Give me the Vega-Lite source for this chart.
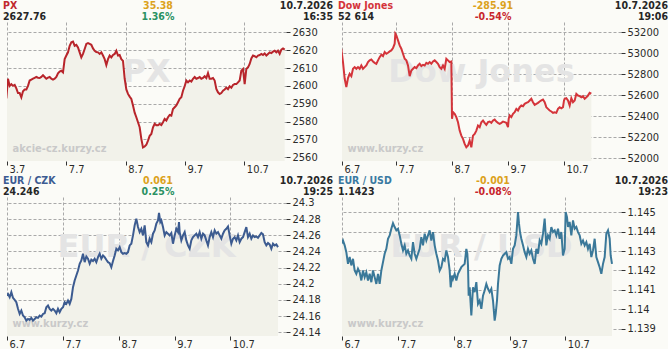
{
"$schema":"https://vega.github.io/schema/vega-lite/v6.json",
"background":"#fbfbf7",
"padding":{"left":3,"top":1,"right":0,"bottom":0},
"columns":2,
"spacing":{"row":36,"column":56},
"bounds":"flush",
"resolve":{"scale":{"color":"independent"}},
"config":{"view":{"stroke":null},
 "axis":{"domain":false,"grid":true,"gridColor":"#a9a9a9","gridDash":[3,2],"tickColor":"#333","tickSize":4,"labelFont":"DejaVu Sans Condensed","labelFontSize":11,"labelColor":"#2b2b2b","labelOverlap":false,"labelFlush":false,"title":null},
 "axisBottom":{"labelAlign":"left","labelOffset":2,"labelPadding":7,"labelBaseline":"alphabetic"},
 "axisRight":{"labelPadding":2}},
"datasets":{
"hdr":[
{"s":"PX","slot":"left","row":"top","role":"name","text":"PX"},
{"s":"PX","slot":"left","row":"bottom","role":"last","text":"2627.76"},
{"s":"PX","slot":"mid","row":"top","role":"chg","text":"35.38"},
{"s":"PX","slot":"mid","row":"bottom","role":"pct","text":"1.36%"},
{"s":"PX","slot":"right","row":"top","role":"date","text":"10.7.2026"},
{"s":"PX","slot":"right","row":"bottom","role":"time","text":"16:35"},
{"s":"DJ","slot":"left","row":"top","role":"name","text":"Dow Jones"},
{"s":"DJ","slot":"left","row":"bottom","role":"last","text":"52 614"},
{"s":"DJ","slot":"mid","row":"top","role":"chg","text":"-285.91"},
{"s":"DJ","slot":"mid","row":"bottom","role":"pct","text":"-0.54%"},
{"s":"DJ","slot":"right","row":"top","role":"date","text":"10.7.2026"},
{"s":"DJ","slot":"right","row":"bottom","role":"time","text":"19:06"},
{"s":"CZK","slot":"left","row":"top","role":"name","text":"EUR / CZK"},
{"s":"CZK","slot":"left","row":"bottom","role":"last","text":"24.246"},
{"s":"CZK","slot":"mid","row":"top","role":"chg","text":"0.061"},
{"s":"CZK","slot":"mid","row":"bottom","role":"pct","text":"0.25%"},
{"s":"CZK","slot":"right","row":"top","role":"date","text":"10.7.2026"},
{"s":"CZK","slot":"right","row":"bottom","role":"time","text":"19:25"},
{"s":"USD","slot":"left","row":"top","role":"name","text":"EUR / USD"},
{"s":"USD","slot":"left","row":"bottom","role":"last","text":"1.1423"},
{"s":"USD","slot":"mid","row":"top","role":"chg","text":"-0.001"},
{"s":"USD","slot":"mid","row":"bottom","role":"pct","text":"-0.08%"},
{"s":"USD","slot":"right","row":"top","role":"date","text":"10.7.2026"},
{"s":"USD","slot":"right","row":"bottom","role":"time","text":"19:23"}
],
"px":[
{"t":0,"v":2593},{"t":1,"v":2604},{"t":2,"v":2600},{"t":3,"v":2601},{"t":4,"v":2600},{"t":5,"v":2600.5},{"t":6,"v":2598.6},{"t":7,"v":2596},{"t":8,"v":2596},{"t":9,"v":2593.6},
{"t":10,"v":2597},{"t":11,"v":2598},{"t":12,"v":2598},{"t":13,"v":2600},{"t":14,"v":2603},{"t":15,"v":2603.5},{"t":16,"v":2604},{"t":17,"v":2604.5},{"t":18,"v":2605},{"t":19,"v":2604.6},
{"t":20,"v":2604.4},{"t":21,"v":2605},{"t":22,"v":2606},{"t":23,"v":2605},{"t":24,"v":2604},{"t":25,"v":2604.6},{"t":26,"v":2605},{"t":27,"v":2604},{"t":28,"v":2603.5},{"t":29,"v":2604},
{"t":30,"v":2605},{"t":31,"v":2607},{"t":32,"v":2608},{"t":33,"v":2608.5},{"t":34,"v":2607.6},{"t":35,"v":2615},{"t":36,"v":2617},{"t":37,"v":2618.8},{"t":38,"v":2622.5},{"t":39,"v":2624.4},
{"t":40,"v":2624.8},{"t":41,"v":2622.5},{"t":42,"v":2623},{"t":43,"v":2621.6},{"t":44,"v":2618.8},{"t":45,"v":2616},{"t":46,"v":2617.9},{"t":47,"v":2620.7},{"t":48,"v":2623.5},{"t":49,"v":2624},
{"t":50,"v":2623.5},{"t":51,"v":2623},{"t":52,"v":2621},{"t":53,"v":2619.7},{"t":54,"v":2619},{"t":55,"v":2618.8},{"t":56,"v":2617.9},{"t":57,"v":2618.8},{"t":58,"v":2617},{"t":59,"v":2615},
{"t":60,"v":2611.7},{"t":61,"v":2615},{"t":62,"v":2617},{"t":63,"v":2616},{"t":64,"v":2617.3},{"t":65,"v":2617.9},{"t":66,"v":2619.7},{"t":67,"v":2617},{"t":68,"v":2617.3},{"t":69,"v":2615},
{"t":70,"v":2614},{"t":71,"v":2604},{"t":72,"v":2598},{"t":73,"v":2595.5},{"t":74,"v":2594},{"t":75,"v":2592.7},{"t":76,"v":2589},{"t":77,"v":2585},{"t":78,"v":2582.4},{"t":79,"v":2579.6},
{"t":80,"v":2576.8},{"t":81,"v":2570.3},{"t":82,"v":2565.5},{"t":83,"v":2566},{"t":84,"v":2567},{"t":85,"v":2569.3},{"t":86,"v":2572},{"t":87,"v":2573},{"t":88,"v":2576.8},{"t":89,"v":2578.7},
{"t":90,"v":2578},{"t":91,"v":2578},{"t":92,"v":2578.7},{"t":93,"v":2578},{"t":94,"v":2579.6},{"t":95,"v":2581.5},{"t":96,"v":2580.6},{"t":97,"v":2582.4},{"t":98,"v":2583.7},{"t":99,"v":2583.3},
{"t":100,"v":2587},{"t":101,"v":2588},{"t":102,"v":2589},{"t":103,"v":2590.8},{"t":104,"v":2592.7},{"t":105,"v":2593.6},{"t":106,"v":2597.3},{"t":107,"v":2599.8},{"t":108,"v":2603},{"t":109,"v":2602},
{"t":110,"v":2603},{"t":111,"v":2602.4},{"t":112,"v":2604},{"t":113,"v":2605},{"t":114,"v":2604},{"t":115,"v":2604.4},{"t":116,"v":2605},{"t":117,"v":2604},{"t":118,"v":2604.4},{"t":119,"v":2605.4},
{"t":120,"v":2604.4},{"t":121,"v":2607.2},{"t":122,"v":2604},{"t":123,"v":2604},{"t":124,"v":2604.4},{"t":125,"v":2603},{"t":126,"v":2598.3},{"t":127,"v":2596.4},{"t":128,"v":2595.5},{"t":129,"v":2596},
{"t":130,"v":2597.3},{"t":131,"v":2598},{"t":132,"v":2599},{"t":133,"v":2598.2},{"t":134,"v":2599.8},{"t":135,"v":2599},{"t":136,"v":2600.5},{"t":137,"v":2601},{"t":138,"v":2601},{"t":139,"v":2602},
{"t":140,"v":2603},{"t":141,"v":2608.5},{"t":142,"v":2609.5},{"t":143,"v":2601},{"t":144,"v":2609.5},{"t":145,"v":2610.4},{"t":146,"v":2612.3},{"t":147,"v":2615.4},{"t":148,"v":2617},{"t":149,"v":2616.6},
{"t":150,"v":2616},{"t":151,"v":2617},{"t":152,"v":2617.3},{"t":153,"v":2617.9},{"t":154,"v":2617.3},{"t":155,"v":2618.2},{"t":156,"v":2617},{"t":157,"v":2617.9},{"t":158,"v":2618.8},{"t":159,"v":2618.4},
{"t":160,"v":2619.2},{"t":161,"v":2619.7},{"t":162,"v":2618.8},{"t":163,"v":2619.7},{"t":164,"v":2617.9},{"t":165,"v":2620.3},{"t":166,"v":2621},{"t":167,"v":2620.3}
],
"dj":[
{"t":0,"v":53044},{"t":1,"v":52917},{"t":2,"v":52760},{"t":3,"v":52678},{"t":4,"v":52765},{"t":5,"v":52805},{"t":6,"v":52783},{"t":7,"v":52853},{"t":8,"v":52869},{"t":9,"v":52853},
{"t":10,"v":52869},{"t":11,"v":52853},{"t":12,"v":52885},{"t":13,"v":52853},{"t":14,"v":52869},{"t":15,"v":52885},{"t":16,"v":52917},{"t":17,"v":52933},{"t":18,"v":52942},{"t":19,"v":52923},
{"t":20,"v":52910},{"t":21,"v":52901},{"t":22,"v":52933},{"t":23,"v":52964},{"t":24,"v":52987},{"t":25,"v":52974},{"t":26,"v":53012},{"t":27,"v":52996},{"t":28,"v":53006},{"t":29,"v":53019},
{"t":30,"v":53028},{"t":31,"v":53050},{"t":32,"v":53092},{"t":32.4,"v":53187},{"t":33,"v":53171},{"t":34,"v":53124},{"t":35,"v":53076},{"t":36,"v":53044},{"t":37,"v":52996},{"t":38,"v":52949},{"t":39,"v":52933},
{"t":40,"v":52885},{"t":41,"v":52783},{"t":42,"v":52837},{"t":43,"v":52853},{"t":44,"v":52869},{"t":45,"v":52860},{"t":46,"v":52885},{"t":47,"v":52901},{"t":48,"v":52879},{"t":49,"v":52891},
{"t":50,"v":52885},{"t":51,"v":52910},{"t":52,"v":52901},{"t":53,"v":52917},{"t":54,"v":52901},{"t":55,"v":52923},{"t":56,"v":52933},{"t":57,"v":52917},{"t":58,"v":52901},{"t":59,"v":52869},
{"t":60,"v":52853},{"t":61,"v":52885},{"t":62,"v":52853},{"t":63,"v":52949},{"t":64,"v":52933},{"t":65,"v":52917},{"t":66,"v":52923},{"t":66.4,"v":52376},{"t":67,"v":52439},{"t":68,"v":52423},{"t":69,"v":52392},
{"t":70,"v":52344},{"t":71,"v":52264},{"t":72,"v":52216},{"t":73,"v":52185},{"t":74,"v":52137},{"t":75,"v":52105},{"t":76,"v":52121},{"t":77,"v":52169},{"t":78,"v":52105},{"t":79,"v":52216},
{"t":80,"v":52232},{"t":81,"v":52264},{"t":82,"v":52312},{"t":83,"v":52296},{"t":84,"v":52344},{"t":85,"v":52360},{"t":86,"v":52338},{"t":87,"v":52319},{"t":88,"v":52344},{"t":89,"v":52350},
{"t":90,"v":52338},{"t":91,"v":52360},{"t":92,"v":52369},{"t":93,"v":52350},{"t":94,"v":52338},{"t":95,"v":52328},{"t":96,"v":52338},{"t":97,"v":52350},{"t":98,"v":52344},{"t":99,"v":52338},
{"t":100,"v":52296},{"t":100.4,"v":52376},{"t":101,"v":52408},{"t":102,"v":52392},{"t":103,"v":52423},{"t":104,"v":52439},{"t":105,"v":52471},{"t":106,"v":52455},{"t":107,"v":52487},{"t":108,"v":52503},{"t":109,"v":52496},
{"t":110,"v":52519},{"t":111,"v":52528},{"t":112,"v":52535},{"t":113,"v":52551},{"t":114,"v":52567},{"t":115,"v":52535},{"t":116,"v":52509},{"t":117,"v":52519},{"t":118,"v":52528},{"t":119,"v":52541},
{"t":120,"v":52551},{"t":121,"v":52560},{"t":122,"v":52535},{"t":123,"v":52487},{"t":124,"v":52471},{"t":125,"v":52455},{"t":126,"v":52446},{"t":127,"v":52433},{"t":128,"v":52439},{"t":129,"v":52433},
{"t":130,"v":52471},{"t":131,"v":52487},{"t":132,"v":52477},{"t":133,"v":52487},{"t":133.6,"v":52551},{"t":134,"v":52567},{"t":135,"v":52573},{"t":136,"v":52551},{"t":137,"v":52503},{"t":138,"v":52573},{"t":139,"v":52535},
{"t":140,"v":52551},{"t":141,"v":52614},{"t":142,"v":52598},{"t":143,"v":52592},{"t":144,"v":52582},{"t":145,"v":52592},{"t":146,"v":52567},{"t":147,"v":52582},{"t":148,"v":52598},{"t":149,"v":52624},
{"t":150,"v":52617}
],
"czk":[
{"t":0,"v":24.1855},{"t":1,"v":24.1875},{"t":2,"v":24.1834},{"t":3,"v":24.1896},{"t":4,"v":24.1826},{"t":5,"v":24.1801},{"t":6,"v":24.1772},{"t":7,"v":24.169},{"t":8,"v":24.1627},{"t":9,"v":24.1669},
{"t":10,"v":24.1607},{"t":11,"v":24.1586},{"t":12,"v":24.1545},{"t":13,"v":24.1565},{"t":14,"v":24.1553},{"t":15,"v":24.1578},{"t":16,"v":24.1545},{"t":17,"v":24.1565},{"t":18,"v":24.1586},{"t":19,"v":24.1578},
{"t":20,"v":24.1607},{"t":21,"v":24.1594},{"t":22,"v":24.1627},{"t":23,"v":24.1636},{"t":24,"v":24.171},{"t":25,"v":24.1731},{"t":26,"v":24.169},{"t":27,"v":24.1669},{"t":28,"v":24.169},{"t":29,"v":24.1669},
{"t":30,"v":24.1636},{"t":31,"v":24.169},{"t":32,"v":24.1648},{"t":33,"v":24.169},{"t":34,"v":24.171},{"t":35,"v":24.1772},{"t":36,"v":24.1752},{"t":37,"v":24.1793},{"t":38,"v":24.1752},{"t":39,"v":24.1813},
{"t":40,"v":24.1958},{"t":41,"v":24.2041},{"t":42,"v":24.2103},{"t":43,"v":24.2165},{"t":44,"v":24.2248},{"t":45,"v":24.2289},{"t":46,"v":24.2372},{"t":47,"v":24.2268},{"t":48,"v":24.2339},{"t":49,"v":24.231},
{"t":50,"v":24.2248},{"t":51,"v":24.2298},{"t":52,"v":24.2281},{"t":53,"v":24.231},{"t":54,"v":24.2268},{"t":55,"v":24.233},{"t":56,"v":24.2372},{"t":57,"v":24.231},{"t":58,"v":24.2351},{"t":59,"v":24.233},
{"t":60,"v":24.2298},{"t":61,"v":24.2268},{"t":62,"v":24.2256},{"t":63,"v":24.2206},{"t":64,"v":24.2281},{"t":65,"v":24.2351},{"t":66,"v":24.2434},{"t":67,"v":24.2413},{"t":68,"v":24.2454},{"t":69,"v":24.2392},
{"t":70,"v":24.2372},{"t":71,"v":24.238},{"t":72,"v":24.2372},{"t":73,"v":24.2392},{"t":74,"v":24.2475},{"t":75,"v":24.2496},{"t":76,"v":24.2599},{"t":77,"v":24.2723},{"t":78,"v":24.2806},{"t":79,"v":24.2702},
{"t":80,"v":24.264},{"t":81,"v":24.2681},{"t":82,"v":24.2599},{"t":83,"v":24.2723},{"t":84,"v":24.2516},{"t":85,"v":24.2475},{"t":86,"v":24.2558},{"t":87,"v":24.2516},{"t":88,"v":24.262},{"t":89,"v":24.2661},
{"t":90,"v":24.2744},{"t":91,"v":24.2785},{"t":91.6,"v":24.2876},{"t":92.4,"v":24.2764},{"t":93,"v":24.2785},{"t":94,"v":24.2702},{"t":95,"v":24.2599},{"t":96,"v":24.264},{"t":97,"v":24.262},{"t":98,"v":24.2599},{"t":99,"v":24.2628},
{"t":100,"v":24.2496},{"t":101,"v":24.2599},{"t":102,"v":24.2681},{"t":103,"v":24.264},{"t":103.6,"v":24.2764},{"t":104,"v":24.264},{"t":105,"v":24.2537},{"t":106,"v":24.2599},{"t":107,"v":24.264},{"t":108,"v":24.2537},{"t":109,"v":24.2475},
{"t":110,"v":24.2434},{"t":111,"v":24.2537},{"t":112,"v":24.2578},{"t":113,"v":24.2599},{"t":114,"v":24.262},{"t":115,"v":24.2578},{"t":116,"v":24.264},{"t":117,"v":24.2558},{"t":118,"v":24.262},{"t":119,"v":24.2599},
{"t":120,"v":24.2537},{"t":121,"v":24.2475},{"t":122,"v":24.2578},{"t":123,"v":24.264},{"t":124,"v":24.2578},{"t":125,"v":24.2661},{"t":126,"v":24.262},{"t":127,"v":24.264},{"t":128,"v":24.2599},{"t":129,"v":24.2558},
{"t":130,"v":24.262},{"t":131,"v":24.2661},{"t":132,"v":24.2681},{"t":133,"v":24.271},{"t":134,"v":24.2599},{"t":135,"v":24.2496},{"t":136,"v":24.2558},{"t":137,"v":24.2578},{"t":138,"v":24.2537},{"t":139,"v":24.2599},
{"t":140,"v":24.2516},{"t":141,"v":24.2558},{"t":142,"v":24.2578},{"t":143,"v":24.264},{"t":144,"v":24.2702},{"t":145,"v":24.2578},{"t":146,"v":24.262},{"t":147,"v":24.2558},{"t":148,"v":24.2599},{"t":149,"v":24.2578},
{"t":150,"v":24.2587},{"t":151,"v":24.257},{"t":152,"v":24.2599},{"t":153,"v":24.2628},{"t":154,"v":24.2611},{"t":155,"v":24.2516},{"t":156,"v":24.2475},{"t":157,"v":24.2504},{"t":158,"v":24.2487},{"t":159,"v":24.2434},
{"t":160,"v":24.2496},{"t":161,"v":24.2475},{"t":162,"v":24.2487},{"t":163,"v":24.2454}
],
"usd":[
{"t":0,"v":1.14337},{"t":1,"v":1.14354},{"t":2,"v":1.14329},{"t":3,"v":1.14294},{"t":4,"v":1.14234},{"t":5,"v":1.14269},{"t":6,"v":1.14226},{"t":7,"v":1.1426},{"t":8,"v":1.142},{"t":9,"v":1.14183},
{"t":10,"v":1.14209},{"t":11,"v":1.14191},{"t":12,"v":1.14149},{"t":13,"v":1.142},{"t":14,"v":1.14166},{"t":15,"v":1.14191},{"t":16,"v":1.14149},{"t":17,"v":1.14183},{"t":18,"v":1.1414},{"t":19,"v":1.142},
{"t":20,"v":1.14166},{"t":21,"v":1.14131},{"t":22,"v":1.14183},{"t":23,"v":1.14131},{"t":24,"v":1.142},{"t":25,"v":1.14243},{"t":26,"v":1.14286},{"t":27,"v":1.14311},{"t":28,"v":1.14363},{"t":29,"v":1.1438},
{"t":30,"v":1.14414},{"t":31,"v":1.14443},{"t":32,"v":1.14423},{"t":33,"v":1.14406},{"t":34,"v":1.14414},{"t":35,"v":1.1438},{"t":36,"v":1.14337},{"t":37,"v":1.14303},{"t":38,"v":1.14329},{"t":39,"v":1.14286},
{"t":40,"v":1.14303},{"t":41,"v":1.14277},{"t":42,"v":1.1426},{"t":43,"v":1.14346},{"t":44,"v":1.14286},{"t":45,"v":1.1426},{"t":46,"v":1.14286},{"t":47,"v":1.14311},{"t":48,"v":1.14371},{"t":49,"v":1.14329},
{"t":50,"v":1.14389},{"t":51,"v":1.14354},{"t":52,"v":1.1438},{"t":53,"v":1.14406},{"t":54,"v":1.14354},{"t":55,"v":1.14397},{"t":56,"v":1.14329},{"t":57,"v":1.14286},{"t":58,"v":1.14251},{"t":59,"v":1.142},
{"t":60,"v":1.14217},{"t":61,"v":1.1426},{"t":62,"v":1.14251},{"t":63,"v":1.14303},{"t":64,"v":1.14269},{"t":65,"v":1.142},{"t":65.6,"v":1.14114},{"t":66.4,"v":1.14174},{"t":67,"v":1.14157},{"t":68,"v":1.14183},{"t":69,"v":1.14149},
{"t":70,"v":1.14183},{"t":71,"v":1.142},{"t":72,"v":1.14217},{"t":73,"v":1.14226},{"t":74,"v":1.14234},{"t":75,"v":1.14311},{"t":75.6,"v":1.14286},{"t":76,"v":1.14226},{"t":76.4,"v":1.14071},{"t":77,"v":1.14114},{"t":78,"v":1.13969},{"t":79,"v":1.14114},
{"t":80,"v":1.14089},{"t":81,"v":1.1414},{"t":82,"v":1.14029},{"t":83,"v":1.14046},{"t":84,"v":1.14003},{"t":85,"v":1.14071},{"t":86,"v":1.14097},{"t":87,"v":1.14131},{"t":88,"v":1.14106},{"t":89,"v":1.14089},
{"t":90,"v":1.14106},{"t":91,"v":1.14046},{"t":92,"v":1.13943},{"t":92.6,"v":1.13977},{"t":93.4,"v":1.14046},{"t":94,"v":1.14131},{"t":95,"v":1.14226},{"t":96,"v":1.1426},{"t":97,"v":1.14277},{"t":98,"v":1.14286},{"t":99,"v":1.14294},
{"t":100,"v":1.1426},{"t":101,"v":1.14269},{"t":102,"v":1.14234},{"t":103,"v":1.14311},{"t":104,"v":1.14329},{"t":105,"v":1.1438},{"t":106,"v":1.145},{"t":106.6,"v":1.1444},{"t":107.2,"v":1.14397},{"t":108,"v":1.14363},{"t":109,"v":1.14329},
{"t":110,"v":1.14294},{"t":111,"v":1.14269},{"t":112,"v":1.14311},{"t":113,"v":1.14286},{"t":114,"v":1.14303},{"t":115,"v":1.1426},{"t":116,"v":1.14234},{"t":117,"v":1.14311},{"t":118,"v":1.14286},{"t":119,"v":1.14354},
{"t":120,"v":1.14337},{"t":121,"v":1.14389},{"t":122,"v":1.14466},{"t":123,"v":1.14329},{"t":124,"v":1.1438},{"t":125,"v":1.14363},{"t":126,"v":1.14423},{"t":127,"v":1.14397},{"t":128,"v":1.14406},{"t":129,"v":1.1438},
{"t":130,"v":1.14414},{"t":131,"v":1.14363},{"t":132,"v":1.14397},{"t":133,"v":1.14277},{"t":134,"v":1.14311},{"t":134.6,"v":1.145},{"t":135.4,"v":1.14474},{"t":136,"v":1.14423},{"t":137,"v":1.14449},{"t":138,"v":1.1438},{"t":139,"v":1.14457},
{"t":140,"v":1.14414},{"t":141,"v":1.14423},{"t":142,"v":1.14397},{"t":143,"v":1.1438},{"t":144,"v":1.14337},{"t":145,"v":1.14354},{"t":146,"v":1.14329},{"t":147,"v":1.14346},{"t":148,"v":1.14311},{"t":149,"v":1.14337},
{"t":150,"v":1.14269},{"t":151,"v":1.14303},{"t":152,"v":1.14363},{"t":153,"v":1.14269},{"t":154,"v":1.14243},{"t":155,"v":1.14217},{"t":156,"v":1.14183},{"t":157,"v":1.14234},{"t":158,"v":1.14269},{"t":159,"v":1.14389},
{"t":160,"v":1.14406},{"t":161,"v":1.14363},{"t":161.6,"v":1.14277},{"t":162.4,"v":1.14234}
]
},
"concat":[
{"width":279,"height":139,"resolve":{"scale":{"x":"independent","y":"independent"}},
 "layer":[
  {"data":{"name":"px"},"mark":{"type":"area","color":"#f2f2ea","clip":true},
   "encoding":{"x":{"field":"t","type":"quantitative","scale":{"domain":[0.4,167.8],"nice":false,"zero":false},"axis":{"orient":"bottom","values":[0.4,36,71.6,107.2,142.8],"labelExpr":"datum.value<1?'3.7':datum.value<40?'7.7':datum.value<80?'8.7':datum.value<120?'9.7':'10.7'"}},
    "y":{"field":"v","type":"quantitative","scale":{"domain":[2557.9,2635.8],"nice":false,"zero":false},"axis":{"orient":"right","values":[2560,2570,2580,2590,2600,2610,2620,2630],"format":"d"}}}},
  {"data":{"name":"hdr"},"transform":[{"filter":"datum.s=='PX' && datum.role=='name'"}],
   "mark":{"type":"text","align":"center","baseline":"alphabetic","font":"DejaVu Sans","fontWeight":"bold","fontSize":32,"color":"#e4e4e4"},
   "encoding":{"x":{"field":"role","type":"nominal","scale":{"type":"point","align":0.5},"axis":null},"y":{"field":"role","type":"nominal","scale":{"type":"point","align":0.432},"axis":null},"text":{"field":"text"}}},
  {"data":{"name":"hdr"},"transform":[{"filter":"datum.s=='PX' && datum.role=='name'"}],
   "mark":{"type":"text","text":"akcie-cz.kurzy.cz","align":"left","baseline":"alphabetic","font":"DejaVu Sans Condensed","fontWeight":"bold","fontSize":11,"color":"#c9c9c9"},
   "encoding":{"x":{"field":"role","type":"nominal","scale":{"type":"point","align":0.02},"axis":null},"y":{"field":"role","type":"nominal","scale":{"type":"point","align":0.935},"axis":null}}},
  {"data":{"name":"px"},"mark":{"type":"line","color":"#b8252b","strokeWidth":2,"clip":true},
   "encoding":{"x":{"field":"t","type":"quantitative","scale":{"domain":[0.4,167.8],"nice":false,"zero":false},"axis":null},
    "y":{"field":"v","type":"quantitative","scale":{"domain":[2557.9,2635.8],"nice":false,"zero":false},"axis":null}}},
  {"data":{"name":"hdr"},"transform":[{"filter":"datum.s=='PX' && datum.slot=='left'"}],
   "mark":{"type":"text","align":"left","baseline":"alphabetic","font":"DejaVu Sans Condensed","fontWeight":"bold","fontSize":10.5},
   "encoding":{"x":{"field":"slot","type":"nominal","scale":{"type":"point","domain":["left","mid","right"],"range":[-4,326],"padding":0},"axis":null},
    "y":{"field":"row","type":"nominal","scale":{"type":"point","domain":["top","bottom"],"range":[-12.8,-2],"padding":0},"axis":null},
    "text":{"field":"text"},
    "color":{"field":"role","type":"nominal","scale":{"domain":["name","last","chg","pct","date","time"],"range":["#c0272d","#262626","#dca21c","#2a9163","#262626","#262626"]},"legend":null}}},
  {"data":{"name":"hdr"},"transform":[{"filter":"datum.s=='PX' && datum.slot=='mid'"}],
   "mark":{"type":"text","align":"center","dx":-10,"baseline":"alphabetic","font":"DejaVu Sans Condensed","fontWeight":"bold","fontSize":10.5},
   "encoding":{"x":{"field":"slot","type":"nominal","scale":{"type":"point","domain":["left","mid","right"],"range":[-4,326],"padding":0},"axis":null},
    "y":{"field":"row","type":"nominal","scale":{"type":"point","domain":["top","bottom"],"range":[-12.8,-2],"padding":0},"axis":null},
    "text":{"field":"text"},
    "color":{"field":"role","type":"nominal","scale":{"domain":["name","last","chg","pct","date","time"],"range":["#c0272d","#262626","#dca21c","#2a9163","#262626","#262626"]},"legend":null}}},
  {"data":{"name":"hdr"},"transform":[{"filter":"datum.s=='PX' && datum.slot=='right'"}],
   "mark":{"type":"text","align":"right","baseline":"alphabetic","font":"DejaVu Sans Condensed","fontWeight":"bold","fontSize":10.5},
   "encoding":{"x":{"field":"slot","type":"nominal","scale":{"type":"point","domain":["left","mid","right"],"range":[-4,326],"padding":0},"axis":null},
    "y":{"field":"row","type":"nominal","scale":{"type":"point","domain":["top","bottom"],"range":[-12.8,-2],"padding":0},"axis":null},
    "text":{"field":"text"},
    "color":{"field":"role","type":"nominal","scale":{"domain":["name","last","chg","pct","date","time"],"range":["#c0272d","#262626","#dca21c","#2a9163","#262626","#262626"]},"legend":null}}}
 ]},
{"width":279,"height":139,"resolve":{"scale":{"x":"independent","y":"independent"}},
 "layer":[
  {"data":{"name":"dj"},"mark":{"type":"area","color":"#f2f2ea","clip":true},
   "encoding":{"x":{"field":"t","type":"quantitative","scale":{"domain":[0.4,167.8],"nice":false,"zero":false},"axis":{"orient":"bottom","values":[0.4,33,66.4,100,133.6],"labelExpr":"datum.value<1?'6.7':datum.value<40?'7.7':datum.value<80?'8.7':datum.value<120?'9.7':'10.7'"}},
    "y":{"field":"v","type":"quantitative","scale":{"domain":[51974,53299],"nice":false,"zero":false},"axis":{"orient":"right","values":[52000,52200,52400,52600,52800,53000,53200],"format":"d"}}}},
  {"data":{"name":"hdr"},"transform":[{"filter":"datum.s=='DJ' && datum.role=='name'"}],
   "mark":{"type":"text","align":"center","baseline":"alphabetic","font":"DejaVu Sans","fontWeight":"bold","fontSize":32,"color":"#e4e4e4"},
   "encoding":{"x":{"field":"role","type":"nominal","scale":{"type":"point","align":0.5},"axis":null},"y":{"field":"role","type":"nominal","scale":{"type":"point","align":0.432},"axis":null},"text":{"field":"text"}}},
  {"data":{"name":"hdr"},"transform":[{"filter":"datum.s=='DJ' && datum.role=='name'"}],
   "mark":{"type":"text","text":"www.kurzy.cz","align":"left","baseline":"alphabetic","font":"DejaVu Sans Condensed","fontWeight":"bold","fontSize":11,"color":"#c9c9c9"},
   "encoding":{"x":{"field":"role","type":"nominal","scale":{"type":"point","align":0.02},"axis":null},"y":{"field":"role","type":"nominal","scale":{"type":"point","align":0.935},"axis":null}}},
  {"data":{"name":"dj"},"mark":{"type":"line","color":"#d4343a","strokeWidth":2,"clip":true},
   "encoding":{"x":{"field":"t","type":"quantitative","scale":{"domain":[0.4,167.8],"nice":false,"zero":false},"axis":null},
    "y":{"field":"v","type":"quantitative","scale":{"domain":[51974,53299],"nice":false,"zero":false},"axis":null}}},
  {"data":{"name":"hdr"},"transform":[{"filter":"datum.s=='DJ' && datum.slot=='left'"}],
   "mark":{"type":"text","align":"left","baseline":"alphabetic","font":"DejaVu Sans Condensed","fontWeight":"bold","fontSize":10.5},
   "encoding":{"x":{"field":"slot","type":"nominal","scale":{"type":"point","domain":["left","mid","right"],"range":[-4,326],"padding":0},"axis":null},
    "y":{"field":"row","type":"nominal","scale":{"type":"point","domain":["top","bottom"],"range":[-12.8,-2],"padding":0},"axis":null},
    "text":{"field":"text"},
    "color":{"field":"role","type":"nominal","scale":{"domain":["name","last","chg","pct","date","time"],"range":["#d4343a","#262626","#dca21c","#c8262c","#262626","#262626"]},"legend":null}}},
  {"data":{"name":"hdr"},"transform":[{"filter":"datum.s=='DJ' && datum.slot=='mid'"}],
   "mark":{"type":"text","align":"center","dx":-10,"baseline":"alphabetic","font":"DejaVu Sans Condensed","fontWeight":"bold","fontSize":10.5},
   "encoding":{"x":{"field":"slot","type":"nominal","scale":{"type":"point","domain":["left","mid","right"],"range":[-4,326],"padding":0},"axis":null},
    "y":{"field":"row","type":"nominal","scale":{"type":"point","domain":["top","bottom"],"range":[-12.8,-2],"padding":0},"axis":null},
    "text":{"field":"text"},
    "color":{"field":"role","type":"nominal","scale":{"domain":["name","last","chg","pct","date","time"],"range":["#d4343a","#262626","#dca21c","#c8262c","#262626","#262626"]},"legend":null}}},
  {"data":{"name":"hdr"},"transform":[{"filter":"datum.s=='DJ' && datum.slot=='right'"}],
   "mark":{"type":"text","align":"right","baseline":"alphabetic","font":"DejaVu Sans Condensed","fontWeight":"bold","fontSize":10.5},
   "encoding":{"x":{"field":"slot","type":"nominal","scale":{"type":"point","domain":["left","mid","right"],"range":[-4,326],"padding":0},"axis":null},
    "y":{"field":"row","type":"nominal","scale":{"type":"point","domain":["top","bottom"],"range":[-12.8,-2],"padding":0},"axis":null},
    "text":{"field":"text"},
    "color":{"field":"role","type":"nominal","scale":{"domain":["name","last","chg","pct","date","time"],"range":["#d4343a","#262626","#dca21c","#c8262c","#262626","#262626"]},"legend":null}}}
 ]},
{"width":279,"height":139,"resolve":{"scale":{"x":"independent","y":"independent"}},
 "layer":[
  {"data":{"name":"czk"},"mark":{"type":"area","color":"#f2f2ea","clip":true},
   "encoding":{"x":{"field":"t","type":"quantitative","scale":{"domain":[0.4,167.8],"nice":false,"zero":false},"axis":{"orient":"bottom","values":[0.4,34,67.6,101,134.4],"labelExpr":"datum.value<1?'6.7':datum.value<40?'7.7':datum.value<80?'8.7':datum.value<120?'9.7':'10.7'"}},
    "y":{"field":"v","type":"quantitative","scale":{"domain":[24.1354,24.3074],"nice":false,"zero":false},"axis":{"orient":"right","values":[24.14,24.16,24.18,24.2,24.22,24.24,24.26,24.28,24.3],"format":".4~r"}}}},
  {"data":{"name":"hdr"},"transform":[{"filter":"datum.s=='CZK' && datum.role=='name'"}],
   "mark":{"type":"text","align":"center","baseline":"alphabetic","font":"DejaVu Sans","fontWeight":"bold","fontSize":32,"color":"#e4e4e4"},
   "encoding":{"x":{"field":"role","type":"nominal","scale":{"type":"point","align":0.5},"axis":null},"y":{"field":"role","type":"nominal","scale":{"type":"point","align":0.432},"axis":null},"text":{"field":"text"}}},
  {"data":{"name":"hdr"},"transform":[{"filter":"datum.s=='CZK' && datum.role=='name'"}],
   "mark":{"type":"text","text":"www.kurzy.cz","align":"left","baseline":"alphabetic","font":"DejaVu Sans Condensed","fontWeight":"bold","fontSize":11,"color":"#c9c9c9"},
   "encoding":{"x":{"field":"role","type":"nominal","scale":{"type":"point","align":0.02},"axis":null},"y":{"field":"role","type":"nominal","scale":{"type":"point","align":0.935},"axis":null}}},
  {"data":{"name":"czk"},"mark":{"type":"line","color":"#3c5b90","strokeWidth":2,"clip":true},
   "encoding":{"x":{"field":"t","type":"quantitative","scale":{"domain":[0.4,167.8],"nice":false,"zero":false},"axis":null},
    "y":{"field":"v","type":"quantitative","scale":{"domain":[24.1354,24.3074],"nice":false,"zero":false},"axis":null}}},
  {"data":{"name":"hdr"},"transform":[{"filter":"datum.s=='CZK' && datum.slot=='left'"}],
   "mark":{"type":"text","align":"left","baseline":"alphabetic","font":"DejaVu Sans Condensed","fontWeight":"bold","fontSize":10.5},
   "encoding":{"x":{"field":"slot","type":"nominal","scale":{"type":"point","domain":["left","mid","right"],"range":[-4,326],"padding":0},"axis":null},
    "y":{"field":"row","type":"nominal","scale":{"type":"point","domain":["top","bottom"],"range":[-12.8,-2],"padding":0},"axis":null},
    "text":{"field":"text"},
    "color":{"field":"role","type":"nominal","scale":{"domain":["name","last","chg","pct","date","time"],"range":["#3c5b92","#262626","#dca21c","#2a9163","#262626","#262626"]},"legend":null}}},
  {"data":{"name":"hdr"},"transform":[{"filter":"datum.s=='CZK' && datum.slot=='mid'"}],
   "mark":{"type":"text","align":"center","dx":-10,"baseline":"alphabetic","font":"DejaVu Sans Condensed","fontWeight":"bold","fontSize":10.5},
   "encoding":{"x":{"field":"slot","type":"nominal","scale":{"type":"point","domain":["left","mid","right"],"range":[-4,326],"padding":0},"axis":null},
    "y":{"field":"row","type":"nominal","scale":{"type":"point","domain":["top","bottom"],"range":[-12.8,-2],"padding":0},"axis":null},
    "text":{"field":"text"},
    "color":{"field":"role","type":"nominal","scale":{"domain":["name","last","chg","pct","date","time"],"range":["#3c5b92","#262626","#dca21c","#2a9163","#262626","#262626"]},"legend":null}}},
  {"data":{"name":"hdr"},"transform":[{"filter":"datum.s=='CZK' && datum.slot=='right'"}],
   "mark":{"type":"text","align":"right","baseline":"alphabetic","font":"DejaVu Sans Condensed","fontWeight":"bold","fontSize":10.5},
   "encoding":{"x":{"field":"slot","type":"nominal","scale":{"type":"point","domain":["left","mid","right"],"range":[-4,326],"padding":0},"axis":null},
    "y":{"field":"row","type":"nominal","scale":{"type":"point","domain":["top","bottom"],"range":[-12.8,-2],"padding":0},"axis":null},
    "text":{"field":"text"},
    "color":{"field":"role","type":"nominal","scale":{"domain":["name","last","chg","pct","date","time"],"range":["#3c5b92","#262626","#dca21c","#2a9163","#262626","#262626"]},"legend":null}}}
 ]},
{"width":279,"height":139,"resolve":{"scale":{"x":"independent","y":"independent"}},
 "layer":[
  {"data":{"name":"usd"},"mark":{"type":"area","color":"#f2f2ea","clip":true},
   "encoding":{"x":{"field":"t","type":"quantitative","scale":{"domain":[0.4,167.8],"nice":false,"zero":false},"axis":{"orient":"bottom","values":[0.4,34,67.6,101,134.4],"labelExpr":"datum.value<1?'6.7':datum.value<40?'7.7':datum.value<80?'8.7':datum.value<120?'9.7':'10.7'"}},
    "y":{"field":"v","type":"quantitative","scale":{"domain":[1.13864,1.14577],"nice":false,"zero":false},"axis":{"orient":"right","values":[1.139,1.14,1.141,1.142,1.143,1.144,1.145],"format":".4~r"}}}},
  {"data":{"name":"hdr"},"transform":[{"filter":"datum.s=='USD' && datum.role=='name'"}],
   "mark":{"type":"text","align":"center","baseline":"alphabetic","font":"DejaVu Sans","fontWeight":"bold","fontSize":32,"color":"#e4e4e4"},
   "encoding":{"x":{"field":"role","type":"nominal","scale":{"type":"point","align":0.5},"axis":null},"y":{"field":"role","type":"nominal","scale":{"type":"point","align":0.432},"axis":null},"text":{"field":"text"}}},
  {"data":{"name":"hdr"},"transform":[{"filter":"datum.s=='USD' && datum.role=='name'"}],
   "mark":{"type":"text","text":"www.kurzy.cz","align":"left","baseline":"alphabetic","font":"DejaVu Sans Condensed","fontWeight":"bold","fontSize":11,"color":"#c9c9c9"},
   "encoding":{"x":{"field":"role","type":"nominal","scale":{"type":"point","align":0.02},"axis":null},"y":{"field":"role","type":"nominal","scale":{"type":"point","align":0.935},"axis":null}}},
  {"data":{"name":"usd"},"mark":{"type":"line","color":"#3a7899","strokeWidth":2,"clip":true},
   "encoding":{"x":{"field":"t","type":"quantitative","scale":{"domain":[0.4,167.8],"nice":false,"zero":false},"axis":null},
    "y":{"field":"v","type":"quantitative","scale":{"domain":[1.13864,1.14577],"nice":false,"zero":false},"axis":null}}},
  {"data":{"name":"hdr"},"transform":[{"filter":"datum.s=='USD' && datum.slot=='left'"}],
   "mark":{"type":"text","align":"left","baseline":"alphabetic","font":"DejaVu Sans Condensed","fontWeight":"bold","fontSize":10.5},
   "encoding":{"x":{"field":"slot","type":"nominal","scale":{"type":"point","domain":["left","mid","right"],"range":[-4,326],"padding":0},"axis":null},
    "y":{"field":"row","type":"nominal","scale":{"type":"point","domain":["top","bottom"],"range":[-12.8,-2],"padding":0},"axis":null},
    "text":{"field":"text"},
    "color":{"field":"role","type":"nominal","scale":{"domain":["name","last","chg","pct","date","time"],"range":["#3a7aa2","#262626","#dca21c","#c8262c","#262626","#262626"]},"legend":null}}},
  {"data":{"name":"hdr"},"transform":[{"filter":"datum.s=='USD' && datum.slot=='mid'"}],
   "mark":{"type":"text","align":"center","dx":-10,"baseline":"alphabetic","font":"DejaVu Sans Condensed","fontWeight":"bold","fontSize":10.5},
   "encoding":{"x":{"field":"slot","type":"nominal","scale":{"type":"point","domain":["left","mid","right"],"range":[-4,326],"padding":0},"axis":null},
    "y":{"field":"row","type":"nominal","scale":{"type":"point","domain":["top","bottom"],"range":[-12.8,-2],"padding":0},"axis":null},
    "text":{"field":"text"},
    "color":{"field":"role","type":"nominal","scale":{"domain":["name","last","chg","pct","date","time"],"range":["#3a7aa2","#262626","#dca21c","#c8262c","#262626","#262626"]},"legend":null}}},
  {"data":{"name":"hdr"},"transform":[{"filter":"datum.s=='USD' && datum.slot=='right'"}],
   "mark":{"type":"text","align":"right","baseline":"alphabetic","font":"DejaVu Sans Condensed","fontWeight":"bold","fontSize":10.5},
   "encoding":{"x":{"field":"slot","type":"nominal","scale":{"type":"point","domain":["left","mid","right"],"range":[-4,326],"padding":0},"axis":null},
    "y":{"field":"row","type":"nominal","scale":{"type":"point","domain":["top","bottom"],"range":[-12.8,-2],"padding":0},"axis":null},
    "text":{"field":"text"},
    "color":{"field":"role","type":"nominal","scale":{"domain":["name","last","chg","pct","date","time"],"range":["#3a7aa2","#262626","#dca21c","#c8262c","#262626","#262626"]},"legend":null}}}
 ]}
]
}
